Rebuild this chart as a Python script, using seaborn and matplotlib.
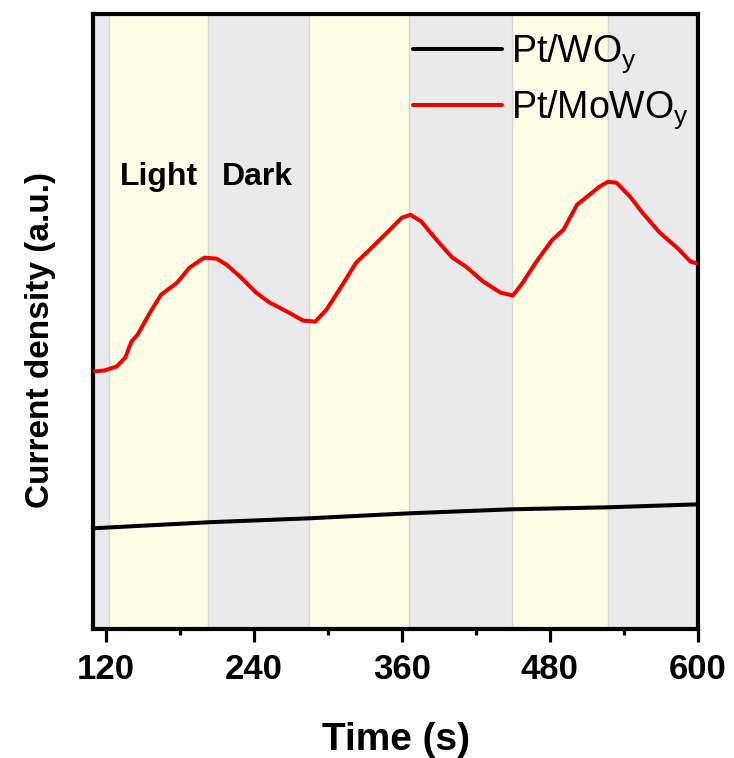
import numpy as np
import pandas as pd
import seaborn as sns
import matplotlib
matplotlib.use("Agg")
import matplotlib.pyplot as plt
from matplotlib.ticker import MultipleLocator

# ---- data (arbitrary current units) ----
t_mowo = [110, 119, 129, 136, 141, 146, 156, 165, 178, 188, 200, 210, 218, 229,
          242, 253, 267, 280, 290, 299, 312, 323, 334, 348, 360, 367, 376, 388,
          401, 412, 426, 440, 450, 458, 469, 482, 491, 502, 510, 520, 527, 534,
          545, 555, 569, 583, 594, 600]
j_mowo = [2.58, 2.59, 2.63, 2.72, 2.88, 2.95, 3.17, 3.35, 3.47, 3.62, 3.72, 3.71,
          3.65, 3.53, 3.37, 3.27, 3.18, 3.09, 3.08, 3.20, 3.45, 3.67, 3.80, 3.97,
          4.12, 4.15, 4.08, 3.90, 3.72, 3.63, 3.48, 3.37, 3.34, 3.47, 3.68, 3.90,
          4.00, 4.25, 4.33, 4.43, 4.48, 4.47, 4.33, 4.17, 3.97, 3.82, 3.68, 3.66]
t_wo = [110, 203, 285, 366, 449, 527, 600]
j_wo = [1.01, 1.07, 1.11, 1.16, 1.20, 1.22, 1.25]

light_on = [123, 285, 449]
light_off = [203, 366, 527]
xticks = [120, 240, 360, 480, 600]
series_names = ["Pt/WO$_y$", "Pt/MoWO$_y$"]
series_colors = ["#000000", "#f20000"]

df = pd.concat([
    pd.DataFrame({"Time": t_wo, "J": j_wo, "Sample": series_names[0]}),
    pd.DataFrame({"Time": t_mowo, "J": j_mowo, "Sample": series_names[1]}),
], ignore_index=True)

sns.set_style("ticks")
plt.rcParams['font.family'] = ['Liberation Sans', 'DejaVu Sans']
plt.rcParams['mathtext.fontset'] = 'custom'
plt.rcParams['mathtext.rm'] = 'Liberation Sans'
plt.rcParams['mathtext.it'] = 'Liberation Sans'
plt.rcParams['text.color'] = 'black'
plt.rcParams['axes.labelcolor'] = 'black'
plt.rcParams['xtick.color'] = 'black'
plt.rcParams['ytick.color'] = 'black'

fig = plt.figure(figsize=(7.34, 7.58), dpi=100)
ax = fig.add_axes([0.127, 0.170, 0.824, 0.8115])

xmin, xmax = 110, 600
ymin, ymax = 0, 6.16

# background bands
ax.axvspan(xmin, xmax, color="#eaeaea", zorder=0, lw=0)
for a, b in zip(light_on, light_off):
    ax.axvspan(a, b, facecolor="#fefee6", edgecolor="#dcdcd0", lw=0.9, zorder=0.5)
for e in sorted(light_on + light_off):
    ax.axvline(e, color="#d6d6d0", lw=0.9, zorder=0.6)

sns.lineplot(data=df, x="Time", y="J", hue="Sample", palette=series_colors,
             hue_order=series_names, linewidth=2.9, ax=ax, legend=False, zorder=3)

for name, c in zip(series_names, series_colors):
    ax.plot([], [], color=c, lw=2.9, label=name)
leg = ax.legend(loc="upper right", frameon=False, fontsize=27, handlelength=2.35,
                handletextpad=0.25, labelspacing=0.35, borderaxespad=0.1,
                bbox_to_anchor=(1.016, 1.0))

ax.text(131.5, 4.53, "Light", fontsize=23, fontweight="bold", va="center", ha="left")
ax.text(214.5, 4.53, "Dark", fontsize=23, fontweight="bold", va="center", ha="left")

ax.set_xlim(xmin, xmax)
ax.set_ylim(ymin, ymax)
ax.set_xticks(xticks)
ax.xaxis.set_minor_locator(MultipleLocator(60))
ax.set_yticks([])
ax.tick_params(axis="x", which="major", length=9, width=2.3, labelsize=25, pad=8)
ax.tick_params(axis="x", which="minor", length=4.5, width=2.3)
for lab in ax.get_xticklabels():
    lab.set_fontweight("bold")
for s in ax.spines.values():
    s.set_linewidth(3)
    s.set_color("black")

ax.set_xlabel("Time (s)", fontsize=28, fontweight="bold", labelpad=26)
ax.set_ylabel("Current density (a.u.)", fontsize=24, fontweight="bold")
ax.yaxis.set_label_coords(-0.062, 0.47)

fig.savefig("out.png", dpi=100)
